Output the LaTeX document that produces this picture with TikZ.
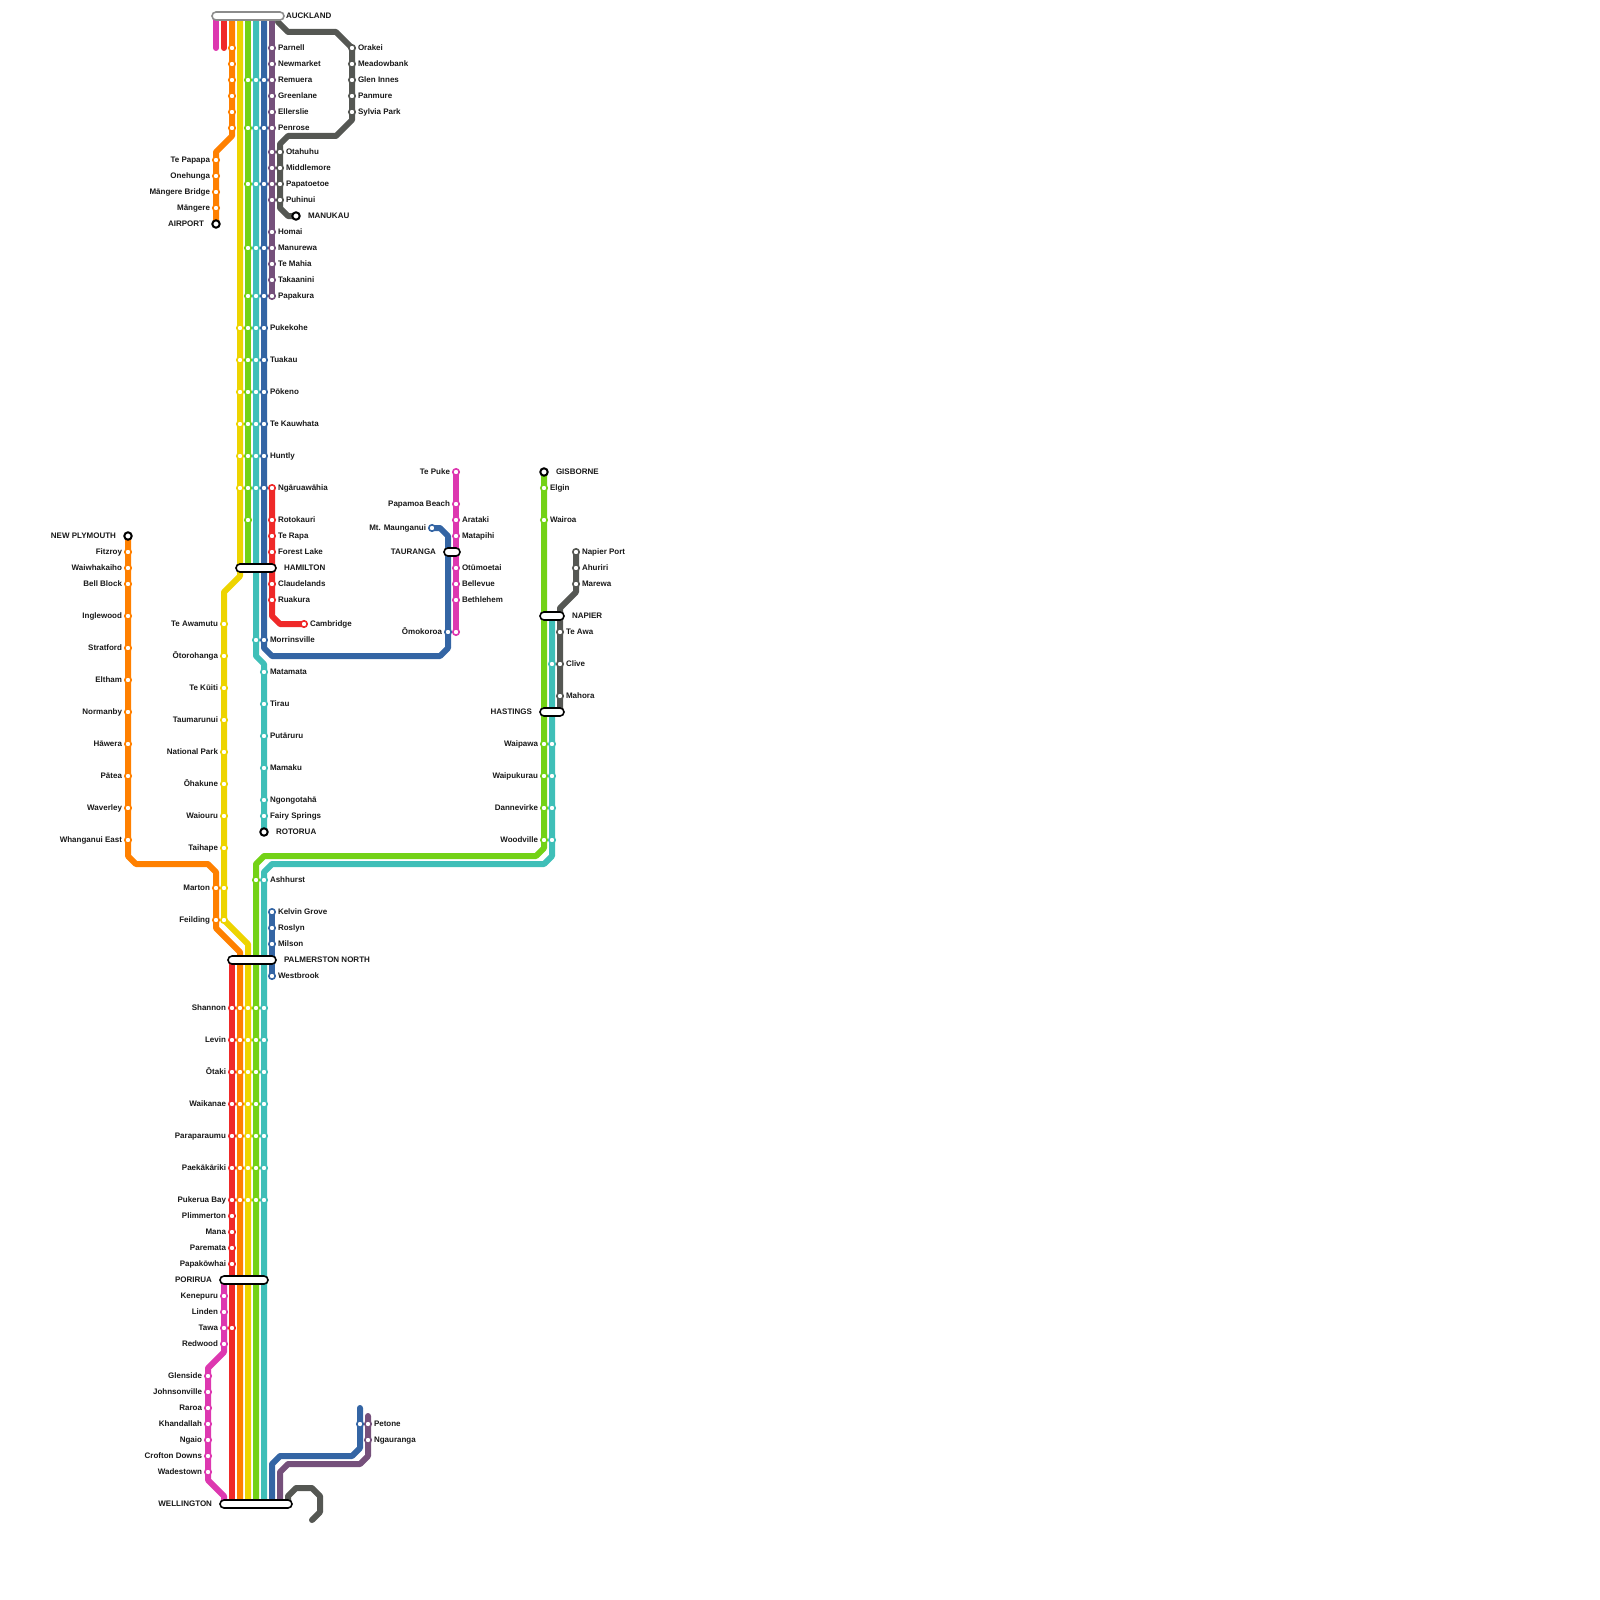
\documentclass[tikz,border=0pt]{standalone}
\usepackage{fontspec}
\setmainfont{Liberation Sans}
\definecolor{cpink}{HTML}{DD38B0}
\definecolor{cred}{HTML}{EF2929}
\definecolor{corange}{HTML}{FF8000}
\definecolor{cyellow}{HTML}{EDD400}
\definecolor{cgreen}{HTML}{73D216}
\definecolor{cteal}{HTML}{3FBFB8}
\definecolor{cblue}{HTML}{3465A4}
\definecolor{cpurple}{HTML}{75507B}
\definecolor{cgray}{HTML}{555753}
\pgfdeclarelayer{lines}
\pgfsetlayers{lines,main}
\tikzset{
  metro/.style={line width=6pt,line cap=round,line join=round},
  stopbox/.style={circle,fill=white,line width=1.6pt,minimum size=6.4pt,inner sep=0pt,outer sep=0pt},
  endbox/.style={circle,fill=white,draw=black,line width=2pt,minimum size=7.4pt,inner sep=0pt,outer sep=0pt},
  barbox/.style={rectangle,rounded corners=4pt,fill=white,draw=black,line width=1.6pt,minimum height=8pt,inner sep=0pt,outer sep=0pt},
  lab/.style={inner sep=0pt,outer sep=0pt,font=\fontsize{8}{9}\selectfont\bfseries,text=black!90},
}
\newcommand{\stops}[3]{\foreach \yy in {#3}{\node[stopbox,draw=#1] (s-#2-\yy) at (#2,\yy) {};}}
\newcommand{\rlab}[3]{\node[lab,anchor=base west] (r-#1-#2) at ({#1+6},{#2+2.3}) {#3};}
\newcommand{\llab}[3]{\node[lab,anchor=base east] (l-#1-#2) at ({#1-6},{#2+2.3}) {#3};}
\begin{document}
\begin{tikzpicture}[x=1pt,y=-1pt]
\useasboundingbox (0,0) rectangle (1600,1600);
% interchange bars
\node[barbox,draw=black!45,minimum width=72pt] (auckland) at (248,16) {};
\node[barbox,minimum width=40pt] (hamilton) at (256,568) {};
\node[barbox,minimum width=48pt] (palmerston) at (252,960) {};
\node[barbox,minimum width=48pt] (porirua) at (244,1280) {};
\node[barbox,minimum width=72pt] (wellington) at (256,1504) {};
\node[barbox,minimum width=16pt] (tauranga) at (452,552) {};
\node[barbox,minimum width=24pt] (napier) at (552,616) {};
\node[barbox,minimum width=24pt] (hastings) at (552,712) {};
% termini
\node[endbox] (airport) at (216,224) {};
\node[endbox] (manukau) at (296,216) {};
\node[endbox] (rotorua) at (264,832) {};
\node[endbox] (newplymouth) at (128,536) {};
\node[endbox] (gisborne) at (544,472) {};
\node[stopbox,draw=cred] (cambridge) at (304,624) {};
\node[stopbox,draw=cblue] (maunganui) at (432,528) {};
\node[stopbox,draw=cpink] (tepuke) at (456,472) {};
\node[stopbox,draw=cpink] (omokoroa) at (456,632) {};
\node[stopbox,draw=cgray] (napierport) at (576,552) {};
\node[stopbox,draw=cblue] (kelvin) at (272,912) {};
\node[stopbox,draw=cblue] (westbrook) at (272,976) {};
\node[stopbox,draw=cred] (ngaruawahia) at (272,488) {};
% lines
\begin{pgfonlayer}{lines}
\draw[metro,cpink] (216,16) -- (216,48);
\draw[metro,cred] (224,16) -- (224,48);
\draw[metro,corange] (232,16) -- (232,136) -- (216,152) -- (airport.center);
\draw[metro,cyellow] (240,16) -- (240,576) -- (224,592) -- (224,920) -- (248,944) -- (248,1504);
\draw[metro,cgreen] (248,16) -- (248,568);
\draw[metro,cteal] (256,16) -- (256,656) -- (264,664) -- (rotorua.center);
\draw[metro,cblue] (264,16) -- (264,648) -- (272,656) -- (440,656) -- (448,648) -- (448,536) -- (440,528) -- (maunganui.center);
\draw[metro,cpurple] (272,16) -- (272,296);
\draw[metro,cgray] (278,22) -- (288,32) -- (336,32) -- (352,48) -- (352,120) -- (336,136) -- (288,136) -- (280,144) -- (280,208) -- (288,216) -- (manukau.center);
\draw[metro,cred] (ngaruawahia.center) -- (272,616) -- (280,624) -- (cambridge.center);
\draw[metro,cred] (232,960) -- (232,1504);
\draw[metro,corange] (newplymouth.center) -- (128,856) -- (136,864) -- (208,864) -- (216,872) -- (216,928) -- (240,952) -- (240,1504);
\draw[metro,cpink] (tepuke.center) -- (omokoroa.center);
\draw[metro,cgreen] (gisborne.center) -- (544,848) -- (536,856) -- (264,856) -- (256,864) -- (256,1504);
\draw[metro,cteal] (552,616) -- (552,856) -- (544,864) -- (272,864) -- (264,872) -- (264,1504);
\draw[metro,cgray] (napierport.center) -- (576,592) -- (560,608) -- (560,712);
\draw[metro,cblue] (kelvin.center) -- (westbrook.center);
\draw[metro,cpink] (224,1280) -- (224,1352) -- (208,1368) -- (208,1480) -- (224,1496) -- (224,1504);
\draw[metro,cblue] (360,1408) -- (360,1448) -- (352,1456) -- (280,1456) -- (272,1464) -- (272,1504);
\draw[metro,cpurple] (368,1416) -- (368,1456) -- (360,1464) -- (288,1464) -- (280,1472) -- (280,1504);
\draw[metro,cgray] (288,1504) -- (288,1496) -- (296,1488) -- (312,1488) -- (320,1496) -- (320,1512) -- (312,1520);
\end{pgfonlayer}
% stops
\stops{corange}{128}{552,568,584,616,648,680,712,744,776,808,840}
\stops{cpink}{208}{1376,1392,1408,1424,1440,1456,1472}
\stops{corange}{216}{160,176,192,208,888,920}
\stops{cyellow}{224}{624,656,688,720,752,784,816,848,888,920}
\stops{cpink}{224}{1296,1312,1328,1344}
\stops{corange}{232}{48,64,80,96,112,128}
\stops{cred}{232}{1008,1040,1072,1104,1136,1168,1200,1216,1232,1248,1264,1328}
\stops{cyellow}{240}{328,360,392,424,456,488}
\stops{corange}{240}{1008,1040,1072,1104,1136,1168,1200}
\stops{cgreen}{248}{80,128,184,248,296,328,360,392,424,456,488,520}
\stops{cyellow}{248}{1008,1040,1072,1104,1136,1168,1200}
\stops{cteal}{256}{80,128,184,248,296,328,360,392,424,456,488,640}
\stops{cgreen}{256}{880,1008,1040,1072,1104,1136,1168,1200}
\stops{cblue}{264}{80,128,184,248,296,328,360,392,424,456,488,640}
\stops{cteal}{264}{672,704,736,768,800,816,880,1008,1040,1072,1104,1136,1168,1200}
\stops{cpurple}{272}{48,64,80,96,112,128,152,168,184,200,232,248,264,280,296}
\stops{cred}{272}{520,536,552,584,600}
\stops{cblue}{272}{928,944}
\stops{cgray}{280}{152,168,184,200}
\stops{cgray}{352}{48,64,80,96,112}
\stops{cblue}{360}{1424}
\stops{cpurple}{368}{1424,1440}
\stops{cblue}{448}{632}
\stops{cpink}{456}{504,520,536,568,584,600}
\stops{cgreen}{544}{488,520,744,776,808,840}
\stops{cteal}{552}{664,744,776,808,840}
\stops{cgray}{560}{632,664,696}
\stops{cgray}{576}{568,584}
% capital labels
\node[lab,anchor=base west] (t-auckland) at (286,18.3) {AUCKLAND};
\node[lab,anchor=base west] (t-manukau) at (308,218.3) {MANUKAU};
\node[lab,anchor=base east] (t-airport) at (204,226.3) {AIRPORT};
\node[lab,anchor=base west] (t-hamilton) at (284,570.3) {HAMILTON};
\node[lab,anchor=base east] (t-newplymouth) at (116,538.3) {NEW PLYMOUTH};
\node[lab,anchor=base west] (t-rotorua) at (276,834.3) {ROTORUA};
\node[lab,anchor=base west] (t-palmerston) at (284,962.3) {PALMERSTON NORTH};
\node[lab,anchor=base east] (t-porirua) at (212,1282.3) {PORIRUA};
\node[lab,anchor=base east] (t-wellington) at (212,1506.3) {WELLINGTON};
\node[lab,anchor=base east] (t-tauranga) at (436,554.3) {TAURANGA};
\node[lab,anchor=base west] (t-gisborne) at (556,474.3) {GISBORNE};
\node[lab,anchor=base west] (t-napier) at (572,618.3) {NAPIER};
\node[lab,anchor=base east] (t-hastings) at (532,714.3) {HASTINGS};
% labels, right
\rlab{272}{48}{Parnell}\rlab{272}{64}{Newmarket}\rlab{272}{80}{Remuera}\rlab{272}{96}{Greenlane}\rlab{272}{112}{Ellerslie}\rlab{272}{128}{Penrose}
\rlab{352}{48}{Orakei}\rlab{352}{64}{Meadowbank}\rlab{352}{80}{Glen Innes}\rlab{352}{96}{Panmure}\rlab{352}{112}{Sylvia Park}
\rlab{280}{152}{Otahuhu}\rlab{280}{168}{Middlemore}\rlab{280}{184}{Papatoetoe}\rlab{280}{200}{Puhinui}
\rlab{272}{232}{Homai}\rlab{272}{248}{Manurewa}\rlab{272}{264}{Te Mahia}\rlab{272}{280}{Takaanini}\rlab{272}{296}{Papakura}
\rlab{264}{328}{Pukekohe}\rlab{264}{360}{Tuakau}\rlab{264}{392}{Pōkeno}\rlab{264}{424}{Te Kauwhata}\rlab{264}{456}{Huntly}
\rlab{272}{488}{Ngāruawāhia}\rlab{272}{520}{Rotokauri}\rlab{272}{536}{Te Rapa}\rlab{272}{552}{Forest Lake}\rlab{272}{584}{Claudelands}\rlab{272}{600}{Ruakura}
\rlab{304}{624}{Cambridge}
\rlab{264}{640}{Morrinsville}\rlab{264}{672}{Matamata}\rlab{264}{704}{Tirau}\rlab{264}{736}{Putāruru}\rlab{264}{768}{Mamaku}\rlab{264}{800}{Ngongotahā}\rlab{264}{816}{Fairy Springs}
\rlab{264}{880}{Ashhurst}
\rlab{272}{912}{Kelvin Grove}\rlab{272}{928}{Roslyn}\rlab{272}{944}{Milson}\rlab{272}{976}{Westbrook}
\rlab{368}{1424}{Petone}\rlab{368}{1440}{Ngauranga}
\rlab{456}{520}{Arataki}\rlab{456}{536}{Matapihi}\rlab{456}{568}{Otūmoetai}\rlab{456}{584}{Bellevue}\rlab{456}{600}{Bethlehem}
\rlab{544}{488}{Elgin}\rlab{544}{520}{Wairoa}
\rlab{576}{552}{Napier Port}\rlab{576}{568}{Ahuriri}\rlab{576}{584}{Marewa}
\rlab{560}{632}{Te Awa}\rlab{560}{664}{Clive}\rlab{560}{696}{Mahora}
% labels, left
\llab{216}{160}{Te Papapa}\llab{216}{176}{Onehunga}\llab{216}{192}{Māngere Bridge}\llab{216}{208}{Māngere}
\llab{128}{552}{Fitzroy}\llab{128}{568}{Waiwhakaiho}\llab{128}{584}{Bell Block}\llab{128}{616}{Inglewood}\llab{128}{648}{Stratford}\llab{128}{680}{Eltham}\llab{128}{712}{Normanby}\llab{128}{744}{Hāwera}\llab{128}{776}{Pātea}\llab{128}{808}{Waverley}\llab{128}{840}{Whanganui East}
\llab{224}{624}{Te Awamutu}\llab{224}{656}{Ōtorohanga}\llab{224}{688}{Te Kūiti}\llab{224}{720}{Taumarunui}\llab{224}{752}{National Park}\llab{224}{784}{Ōhakune}\llab{224}{816}{Waiouru}\llab{224}{848}{Taihape}
\llab{216}{888}{Marton}\llab{216}{920}{Feilding}
\llab{232}{1008}{Shannon}\llab{232}{1040}{Levin}\llab{232}{1072}{Ōtaki}\llab{232}{1104}{Waikanae}\llab{232}{1136}{Paraparaumu}\llab{232}{1168}{Paekākāriki}\llab{232}{1200}{Pukerua Bay}\llab{232}{1216}{Plimmerton}\llab{232}{1232}{Mana}\llab{232}{1248}{Paremata}\llab{232}{1264}{Papakōwhai}
\llab{224}{1296}{Kenepuru}\llab{224}{1312}{Linden}\llab{224}{1328}{Tawa}\llab{224}{1344}{Redwood}
\llab{208}{1376}{Glenside}\llab{208}{1392}{Johnsonville}\llab{208}{1408}{Raroa}\llab{208}{1424}{Khandallah}\llab{208}{1440}{Ngaio}\llab{208}{1456}{Crofton Downs}\llab{208}{1472}{Wadestown}
\llab{456}{472}{Te Puke}\llab{456}{504}{Papamoa Beach}\llab{432}{528}{Mt. Maunganui}\llab{448}{632}{Ōmokoroa}
\llab{544}{744}{Waipawa}\llab{544}{776}{Waipukurau}\llab{544}{808}{Dannevirke}\llab{544}{840}{Woodville}
\end{tikzpicture}
\end{document}
